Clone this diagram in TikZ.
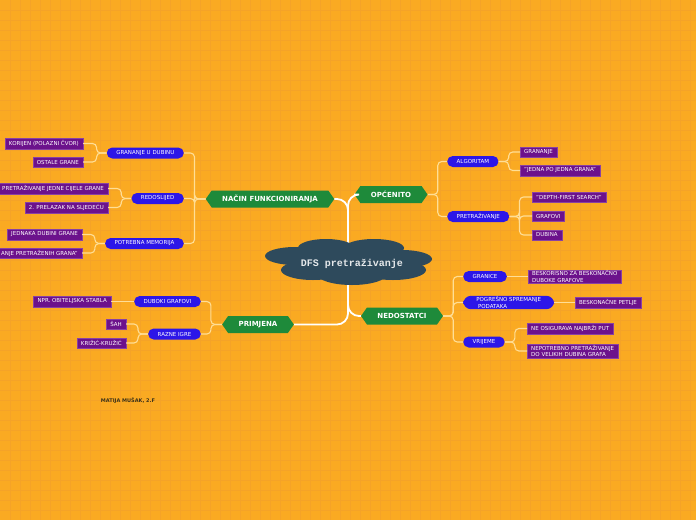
\documentclass[tikz,border=0pt]{standalone}
\usepackage{fontspec}
\setmainfont{DejaVu Sans}
\newfontfamily\strojni{Liberation Mono}
\usetikzlibrary{shapes.symbols}
\definecolor{podloga}{RGB}{250,170,34}
\definecolor{mreza}{RGB}{245,163,40}
\definecolor{zelena}{RGB}{30,138,58}
\definecolor{plava}{RGB}{44,22,232}
\definecolor{ljubicasta}{RGB}{108,18,140}
\definecolor{veza}{RGB}{255,222,150}
\definecolor{oblak}{RGB}{46,74,92}
\definecolor{autor}{RGB}{60,50,25}

\begin{document}
\begin{tikzpicture}[x=1pt, y=-1pt,
  tema/.style={signal, signal to=east and west, signal pointer angle=110, fill=zelena, text=white,
    font=\bfseries\fontsize{7}{8}\selectfont, minimum height=17, inner xsep=10.5, inner ysep=2},
  podtema/.style={rounded corners=5.5, fill=plava, text=white, font=\fontsize{5.5}{6.3}\selectfont,
    minimum height=11, inner xsep=9.5, inner ysep=1},
  list/.style={fill=ljubicasta, draw=ljubicasta!80!white, line width=0.4, text=white,
    font=\fontsize{5.5}{6.3}\selectfont, minimum height=10.5, inner xsep=4, inner ysep=1},
  veza/.style={draw=veza, line width=1.1, rounded corners=4},
  deblo/.style={draw=white, line width=1.8, rounded corners=11}]
\useasboundingbox (0,0) rectangle (696,520);
\fill[podloga] (0,0) rectangle (696,520);
\foreach \x in {10,20,...,690} \draw[mreza, line width=0.4] (\x,0) -- (\x,520);
\foreach \y in {10,20,...,510} \draw[mreza, line width=0.4] (0,\y) -- (696,\y);

\node[tema] (nacin) at (270,199) {NAČIN FUNKCIONIRANJA};
\node[tema] (opcenito) at (391,194.5) {OPĆENITO};
\node[tema] (primjena) at (258,324.5) {PRIMJENA};
\node[tema] (nedostatci) at (402,316) {NEDOSTATCI};
\coordinate (sredina) at (348,262);

\draw[deblo] (nacin.east) -| (sredina) |- (primjena.east);
\draw[deblo] (opcenito.west) -| (sredina);
\draw[deblo] (nedostatci.west) -| (sredina);

\foreach \cx/\cy/\rx/\ry in {295/256/30/9, 326/248/28/9, 374/248/30/9, 402/259/30/9,
  313/270/32/10, 393/270/33/10, 352/274/35/11, 350/260/42/14}
  \fill[oblak] (\cx,\cy) ellipse [x radius=\rx, y radius=\ry];
\node[text=white!88!oblak, font=\strojni\bfseries\fontsize{10}{11}\selectfont] (dfs) at (352,264) {DFS pretraživanje};

\node[podtema, anchor=east] (dubina) at (184,153) {GRANANJE U DUBINU};
\node[podtema, anchor=east] (redoslijed) at (184,198.5) {REDOSLIJED};
\node[podtema, anchor=east] (memorija) at (184,243.5) {POTREBNA MEMORIJA};
\node[podtema, anchor=east] (duboki) at (201,301.5) {DUBOKI GRAFOVI};
\node[podtema, anchor=east] (igre) at (201,334) {RAZNE IGRE};
\node[podtema, anchor=west] (algoritam) at (447,161.5) {ALGORITAM};
\node[podtema, anchor=west] (pretrazivanje) at (447,216.5) {PRETRAŽIVANJE};
\node[podtema, anchor=west] (granice) at (463,276.5) {GRANICE};
\node[podtema, anchor=west, align=left, rounded corners=8, minimum width=91] (spremanje) at (463,302.5) {POGREŠNO SPREMANJE\\\ PODATAKA};
\node[podtema, anchor=west] (vrijeme) at (463,342) {VRIJEME};

\node[list, anchor=east] (korijen) at (83,143.5) {KORIJEN (POLAZNI ČVOR)};
\node[list, anchor=east] (ostale) at (83,162) {OSTALE GRANE};
\node[list, anchor=east] (cijela) at (108,188.5) {PRETRAŽIVANJE JEDNE CIJELE GRANE};
\node[list, anchor=east] (prelazak) at (108,207.5) {2. PRELAZAK NA SLJEDEĆU};
\node[list, anchor=east] (jednaka) at (82,234.5) {JEDNAKA DUBINI GRANE};
\node[list, anchor=east] (pamcenje) at (82,253) {ANJE PRETRAŽENIH GRANA"};
\node[list, anchor=east] (stabla) at (111,301.5) {NPR. OBITELJSKA STABLA};
\node[list, anchor=east] (sah) at (126,324) {ŠAH};
\node[list, anchor=east] (krizic) at (126,343) {KRIŽIĆ-KRUŽIĆ};
\node[list, anchor=west] (grananje) at (520,152) {GRANANJE};
\node[list, anchor=west] (jedna) at (520,170.5) {"JEDNA PO JEDNA GRANA"};
\node[list, anchor=west] (depth) at (532,197) {"DEPTH-FIRST SEARCH"};
\node[list, anchor=west] (grafovi) at (532,216) {GRAFOVI};
\node[list, anchor=west] (dubinal) at (532,235) {DUBINA};
\node[list, anchor=west, align=left] (beskorisno) at (528,276.5) {BESKORISNO ZA BESKONAČNO\\DUBOKE GRAFOVE};
\node[list, anchor=west] (petlje) at (575,302.5) {BESKONAČNE PETLJE};
\node[list, anchor=west] (najbrzi) at (527,328.5) {NE OSIGURAVA NAJBRŽI PUT};
\node[list, anchor=west, align=left] (nepotrebno) at (527,351) {NEPOTREBNO PRETRAŽIVANJE\\DO VELIKIH DUBINA GRAFA};

\foreach \s in {dubina,redoslijed,memorija} \draw[veza] (nacin.west) -- ++(-11,0) |- (\s.east);
\foreach \s in {duboki,igre} \draw[veza] (primjena.west) -- ++(-11,0) |- (\s.east);
\foreach \s in {algoritam,pretrazivanje} \draw[veza] (opcenito.east) -- ++(10,0) |- (\s.west);
\foreach \s in {granice,spremanje,vrijeme} \draw[veza] (nedostatci.east) -- ++(10,0) |- (\s.west);
\foreach \s in {korijen,ostale} \draw[veza] (dubina.west) -- ++(-10,0) |- (\s.east);
\foreach \s in {cijela,prelazak} \draw[veza] (redoslijed.west) -- ++(-10,0) |- (\s.east);
\foreach \s in {jednaka,pamcenje} \draw[veza] (memorija.west) -- ++(-10,0) |- (\s.east);
\foreach \s in {sah,krizic} \draw[veza] (igre.west) -- ++(-10,0) |- (\s.east);
\foreach \s in {grananje,jedna} \draw[veza] (algoritam.east) -- ++(10,0) |- (\s.west);
\foreach \s in {depth,grafovi,dubinal} \draw[veza] (pretrazivanje.east) -- ++(10,0) |- (\s.west);
\foreach \s in {najbrzi,nepotrebno} \draw[veza] (vrijeme.east) -- ++(10,0) |- (\s.west);
\draw[veza] (duboki.west) -- (stabla.east);
\draw[veza] (granice.east) -- (beskorisno.west);
\draw[veza] (spremanje.east) -- (petlje.west);

\node[text=autor, font=\bfseries\fontsize{5}{6}\selectfont] (potpis) at (128,400.5) {MATIJA MUŠAK, 2.F};
\end{tikzpicture}
\end{document}
